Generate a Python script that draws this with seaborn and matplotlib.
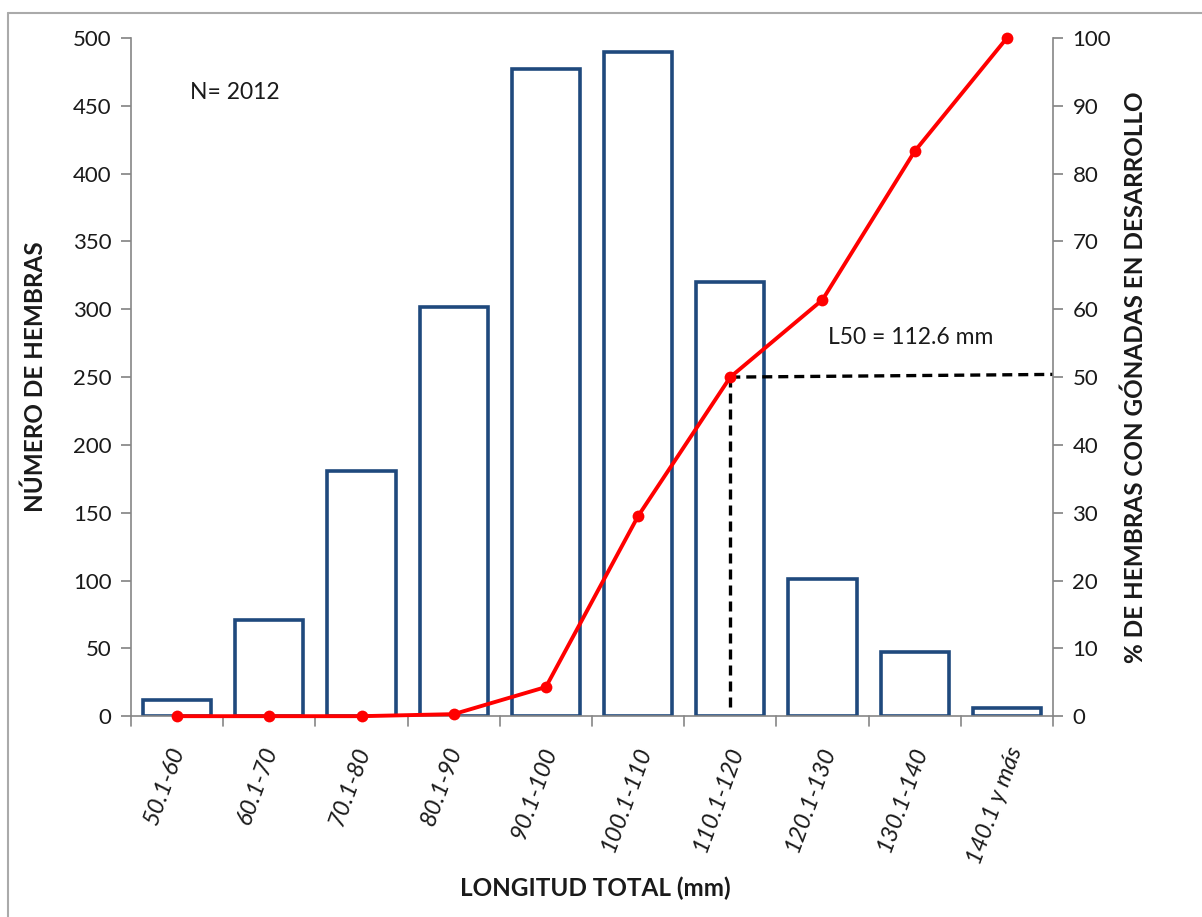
import numpy as np
import pandas as pd
import matplotlib
matplotlib.use("Agg")
import matplotlib.pyplot as plt
import matplotlib.transforms as mtransforms
import seaborn as sns
from matplotlib.lines import Line2D

categories = ["50.1-60", "60.1-70", "70.1-80", "80.1-90", "90.1-100",
              "100.1-110", "110.1-120", "120.1-130", "130.1-140", "140.1 y más"]
n_hembras = [12, 71, 181, 302, 477, 490, 320, 101, 47, 6]
pct_desarrollo = [0, 0, 0, 0.3, 4.3, 29.5, 50, 61.4, 83.3, 100]
l50_category = "110.1-120"
l50_pct = 50
n_total = 2012
l50_text = "L50 = 112.6 mm"

sns.set_theme(style="white")
plt.rcParams['font.family'] = ['Lato', 'DejaVu Sans']

df = pd.DataFrame({"cat": categories, "n": n_hembras, "pct": pct_desarrollo})
df["pos"] = np.arange(len(df))

fig = plt.figure(figsize=(12.02, 9.17), dpi=100)
ax = fig.add_axes([0.109, 0.219, 0.767, 0.7395])

grey = "#868686"
blue = "#1F497D"
txt = "#1a1a1a"

sns.barplot(data=df, x="cat", y="n", ax=ax, color="white", edgecolor=blue,
            linewidth=2.6, width=0.74, saturation=1)
ax.set_ylim(0, 500)
ax.set_xlim(-0.5, len(categories) - 0.5)
ax.set_yticks(np.arange(0, 501, 50))

ax2 = ax.twinx()
sns.lineplot(data=df, x="pos", y="pct", ax=ax2, color="#FF0000", linewidth=2.8,
             marker="o", markersize=8.5, markeredgewidth=0, clip_on=False)
ax2.set_ylim(0, 100)
ax2.set_yticks(np.arange(0, 101, 10))
ax2.set_xlim(-0.5, len(categories) - 0.5)

# L50 dashed guide
xi = categories.index(l50_category)
ax2.plot([xi, len(categories) - 0.5], [l50_pct, l50_pct + 0.4], ls=(0, (3, 1.8)),
         color="black", lw=2.4, zorder=1)
ax2.plot([xi, xi], [l50_pct, 1], ls=(0, (3, 1.8)), color="black", lw=2.4, zorder=1)

# spines & ticks
for a in (ax, ax2):
    for s in a.spines.values():
        s.set_visible(False)
ax.spines["left"].set_visible(True)
ax.spines["left"].set_color(grey)
ax.spines["bottom"].set_visible(True)
ax.spines["bottom"].set_color(grey)
ax2.spines["right"].set_visible(True)
ax2.spines["right"].set_color(grey)
for s in ("left", "bottom"):
    ax.spines[s].set_linewidth(1.2)
ax2.spines["right"].set_linewidth(1.2)

ax.tick_params(axis="y", left=True, direction="out", length=7, color=grey,
               labelsize=16, labelcolor=txt, pad=7)
ax2.tick_params(axis="y", right=True, direction="out", length=7, color=grey,
                labelsize=16, labelcolor=txt, pad=7)

# x ticks at category boundaries
ax.set_xticks(np.arange(len(categories)))
ax.set_xticklabels(categories, rotation=70, fontsize=17, style="italic",
                   color=txt, ha="center", va="top")
ax.tick_params(axis="x", bottom=False, pad=14)
offset = mtransforms.ScaledTranslation(-12 / 100, 0, fig.dpi_scale_trans)
for lbl in ax.get_xticklabels():
    lbl.set_transform(lbl.get_transform() + offset)
for b in np.arange(-0.5, len(categories), 1.0):
    ax.plot([b, b], [0, -7], color=grey, lw=1.2, clip_on=False)

ax.set_xlabel("LONGITUD TOTAL (mm)", fontsize=17.5, fontweight="bold", color=txt)
ax.set_ylabel("NÚMERO DE HEMBRAS", fontsize=17.5, fontweight="bold", color=txt)
ax2.set_ylabel("% DE HEMBRAS CON GÓNADAS EN DESARROLLO", fontsize=17.5,
               fontweight="bold", color=txt)
ax.xaxis.set_label_coords(0.504, -0.2537)
ax.xaxis.label.set_va("center")
ax.yaxis.set_label_coords(-0.104, 0.5)
ax.yaxis.label.set_va("center")
ax2.yaxis.set_label_coords(1.089, 0.5)
ax2.yaxis.label.set_va("center")

ax.text(0.064, 0.919, f"N= {n_total}", transform=ax.transAxes, fontsize=16.5,
        color=txt, va="center")
ax2.text(7.06, 55.9, l50_text, fontsize=16.5, color=txt, va="center")

# figure border (top + left)
fig.add_artist(Line2D([8/1202, 8/1202], [0, 1 - 13/917], color="#AAAAAA", lw=1.5,
                      transform=fig.transFigure))
fig.add_artist(Line2D([8/1202, 1], [1 - 13/917, 1 - 13/917], color="#AAAAAA", lw=1.5,
                      transform=fig.transFigure))

fig.savefig("out.png", dpi=100, facecolor="white")
